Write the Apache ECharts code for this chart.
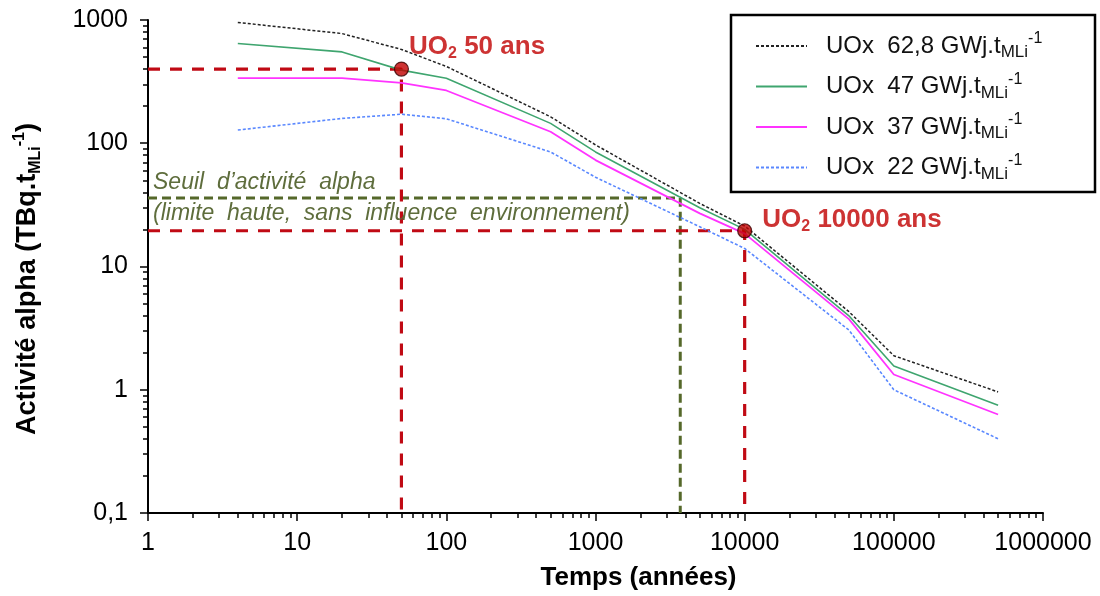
<!DOCTYPE html>
<html><head><meta charset="utf-8">
<script src="https://cdn.jsdelivr.net/npm/echarts@6/dist/echarts.min.js"></script>
<style>html,body{margin:0;padding:0;background:#fff}#c{width:1100px;height:596px}</style>
</head><body><div id="c"></div>
<script>
// ---- data ----
const years   = [4, 20, 50, 100, 500, 1000, 5000, 10000, 50000, 100000, 500000];
const uox628  = [955, 776, 577, 420, 164, 97, 32.5, 21.3, 4.3, 1.89, 0.96];
const uox47   = [645, 551, 392, 337, 145, 85, 30, 20, 3.98, 1.56, 0.75];
const uox37   = [337, 337, 309, 268, 124, 73, 27, 18.5, 3.74, 1.33, 0.63];
const uox22   = [128, 159, 172, 158, 85, 53, 21, 14, 3.05, 1.0, 0.40];
const burnups = ['62,8', '47', '37', '22'];
const seriesNames = burnups.map(b => 'UOx  ' + b);

const xMin = 1, xMax = 1000000, yMin = 0.1, yMax = 1000;
const xMajorTicks = [1, 10, 100, 1000, 10000, 100000, 1000000];
const xMinorTicks = [2,3,4,5,6,7,8,9, 20,30,40,50,60,70,80,90, 200,300,400,500,600,700,800,900,
  2000,3000,4000,5000,6000,7000,8000,9000, 20000,30000,40000,50000,60000,70000,80000,90000,
  200000,300000,400000,500000,600000,700000,800000,900000];
const yMajorTicks = [0.1, 1, 10, 100, 1000];
const yMinorTicks = [0.2,0.3,0.4,0.5,0.6,0.7,0.8,0.9, 2,3,4,5,6,7,8,9, 20,30,40,50,60,70,80,90,
  200,300,400,500,600,700,800,900];

const refYears = [50, 10000];
const refValues = [400, 19.5];
const refLabelText = ['50 ans', '10000 ans'];
const seuilYear = 3700;
const seuilValue = 36;

// ---- chart ----
const FONT = '"Liberation Sans", Arial, sans-serif';
const zip = arr => years.map((x, i) => [x, arr[i]]);
const fmt = v => v < 1 ? String(v).replace('.', ',') : String(Math.round(v));

const lineColors = ['#222222', '#3fa56f', '#ff33ff', '#5a88ff'];
const lineTypes = [[3, 2], 'solid', 'solid', [3, 2]];
const lineWidths = [1.5, 1.6, 1.8, 1.6];
const dataSets = [uox628, uox47, uox37, uox22];

const series = dataSets.map((d, i) => ({
  name: seriesNames[i], type: 'line', data: zip(d), symbol: 'none', z: 5,
  lineStyle: { color: lineColors[i], width: lineWidths[i], type: lineTypes[i] },
  itemStyle: { color: lineColors[i] }
}));

// reference dashed lines (red)
refYears.forEach((x, i) => {
  series.push({
    type: 'line', symbol: 'none', z: 3, silent: true,
    data: [[xMin, refValues[i]], [x, refValues[i]], [x, yMin]],
    lineStyle: { color: '#c00a14', width: 3.2, type: [12, 10] }
  });
});
// threshold dashed line (olive)
series.push({
  type: 'line', symbol: 'none', z: 2, silent: true,
  data: [[xMin, seuilValue], [seuilYear, seuilValue], [seuilYear, yMin]],
  lineStyle: { color: '#55682a', width: 3, type: [9, 5] }
});
// reference points
const labelOffsets = [[-6, -22], [4, -11]];
series.push({
  type: 'scatter', z: 10, symbolSize: 14,
  itemStyle: { color: '#c00000', borderColor: '#3a0000', borderWidth: 1.2 },
  data: refYears.map((x, i) => ({
    value: [x, refValues[i]],
    label: {
      show: true, position: 'right', distance: 6, offset: labelOffsets[i],
      formatter: '{a|UO}{s|2}{a| ' + refLabelText[i] + '}',
      rich: {
        a: { fontFamily: FONT, fontSize: 26, fontWeight: 'bold', color: '#c00000', lineHeight: 30 },
        s: { fontFamily: FONT, fontSize: 16, fontWeight: 'bold', color: '#c00000', lineHeight: 18, verticalAlign: 'bottom' }
      }
    }
  }))
});

const tickLabelStyle = { fontFamily: FONT, fontSize: 25, color: '#000' };

const option = {
  animation: false,
  backgroundColor: '#fff',
  grid: { left: 148, right: 57, top: 20, bottom: 83, containLabel: false },
  xAxis: [{
    type: 'log', logBase: 10, min: xMin, max: xMax,
    name: 'Temps (années)', nameLocation: 'middle', nameGap: 52,
    nameTextStyle: { fontFamily: FONT, fontSize: 26, fontWeight: 'bold', color: '#000', padding: [0, 0, 0, 86] },
    axisLine: { show: true, lineStyle: { color: '#000', width: 2 } },
    axisTick: { show: true, length: 8, lineStyle: { color: '#000', width: 1.5 }, customValues: xMajorTicks },
    axisLabel: { ...tickLabelStyle, margin: 18, customValues: xMajorTicks, formatter: fmt },
    splitLine: { show: false }, minorTick: { show: false }
  }, {
    type: 'log', logBase: 10, min: xMin, max: xMax, position: 'bottom',
    axisLine: { show: false },
    axisTick: { show: true, length: 5, lineStyle: { color: '#000', width: 1.5 }, customValues: xMinorTicks },
    axisLabel: { show: false }, splitLine: { show: false }
  }],
  yAxis: [{
    type: 'log', logBase: 10, min: yMin, max: yMax,
    name: '{b|Activité alpha (TBq.t}{sub|MLi}{sup|-1}{b|)}',
    nameLocation: 'middle', nameGap: 104,
    nameTextStyle: {
      padding: [0, 25, 0, 0],
      rich: {
        b: { fontFamily: FONT, fontSize: 27, fontWeight: 'bold', color: '#000', lineHeight: 32 },
        sub: { fontFamily: FONT, fontSize: 16, fontWeight: 'bold', color: '#000', lineHeight: 19, verticalAlign: 'bottom' },
        sup: { fontFamily: FONT, fontSize: 16, fontWeight: 'bold', color: '#000', lineHeight: 17, verticalAlign: 'top' }
      }
    },
    axisLine: { show: true, lineStyle: { color: '#000', width: 2 } },
    axisTick: { show: true, length: 8, lineStyle: { color: '#000', width: 1.5 }, customValues: yMajorTicks },
    axisLabel: { ...tickLabelStyle, margin: 20, customValues: yMajorTicks, formatter: fmt },
    splitLine: { show: false }, minorTick: { show: false }
  }, {
    type: 'log', logBase: 10, min: yMin, max: yMax, position: 'left',
    axisLine: { show: false },
    axisTick: { show: true, length: 5, lineStyle: { color: '#000', width: 1.5 }, customValues: yMinorTicks },
    axisLabel: { show: false }, splitLine: { show: false }
  }],
  legend: {
    data: seriesNames, orient: 'vertical', left: 755, top: 31, padding: 0,
    itemWidth: 51, itemHeight: 10, itemGap: 10.5,
    itemStyle: { opacity: 0 },
    formatter: name => '{m|' + name + ' GWj.t}{sub|MLi}{sup|-1}',
    textStyle: {
      padding: [0, 0, 0, 14],
      rich: {
        m: { fontFamily: FONT, fontSize: 24, color: '#111', lineHeight: 30 },
        sub: { fontFamily: FONT, fontSize: 17, color: '#111', lineHeight: 19, verticalAlign: 'bottom' },
        sup: { fontFamily: FONT, fontSize: 16, color: '#111', lineHeight: 17, verticalAlign: 'top' }
      }
    }
  },
  graphic: [
    { type: 'rect', shape: { x: 731, y: 15, width: 364, height: 177 }, z: 100,
      style: { fill: 'none', stroke: '#000', lineWidth: 2.5 } },
    { type: 'text', x: 153, y: 167, z: 50,
      style: { text: 'Seuil  d\u2019activité  alpha\n(limite  haute,  sans  influence  environnement)',
        font: 'italic 23px ' + FONT, fill: '#5e6d3c', lineHeight: 31, verticalAlign: 'top' } }
  ],
  series
};

echarts.init(document.getElementById('c'), null, { renderer: 'canvas' }).setOption(option);
</script>
</body></html>
